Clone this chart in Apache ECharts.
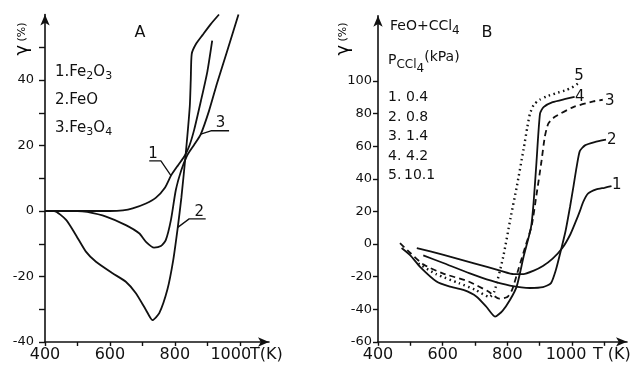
<!DOCTYPE html>
<html>
<head>
<meta charset="utf-8">
<script src="https://cdn.jsdelivr.net/npm/echarts@6/dist/echarts.min.js"></script>
<style>
  html, body { margin: 0; padding: 0; background: #fff; }
  #main { width: 634px; height: 371px; }
</style>
</head>
<body>
<div id="main"></div>
<script>
// ---- panel A : conversion of iron oxides, gamma (%) vs T (K)
var fe2o3 = [[400, 0], [500, 0], [600, 0], [640, 0.2], [670, 0.8], [711, 2.3], [741, 4], [770, 7.2], [788, 10.8], [810, 14], [830, 16.8], [845, 20], [860, 25], [880, 33.5], [900, 42.5], [915, 52]];
var feo = [[400, 0], [428, 0], [465, -2.7], [495, -7.3], [526, -12.4], [557, -15.5], [608, -19], [649, -21.6], [680, -25.1], [711, -30.2], [731, -33.3], [752, -31.2], [777, -24], [795, -15], [809, -5], [820, 4], [834, 18], [846, 32], [849, 40], [852, 48], [865, 51], [885, 53.7], [910, 57], [936, 60]];
var fe3o4 = [[400, 0], [500, 0], [530, -0.3], [588, -1.7], [649, -4.3], [690, -6.8], [711, -9.4], [736, -11.2], [757, -10.7], [772, -8.9], [788, -2.7], [803, 6.4], [820, 12.5], [838, 17], [860, 20.3], [880, 23.5], [905, 30.5], [930, 39], [960, 48.5], [996, 60]];

// leader lines of the curve numbers in A
var leadA1 = [[721, 15.3], [757, 15.3], [788, 10.8]];
var leadA2 = [[809, -5], [844, -2.4], [895, -2.4]];
var leadA3 = [[880, 23.5], [911, 24.5], [967, 24.5]];
var numA = [[733, 17.3, '1'], [875, -0.3, '2'], [941, 26.8, '3']];

var xTicksA = [400, 500, 600, 700, 800, 900, 1000];
var xLabelsA = [400, 600, 800, 1000];
var yTicksA = [-40, -30, -20, -10, 0, 10, 20, 30, 40, 50];
var yLabelsA = [-40, -20, 0, 20, 40];

// ---- panel B : FeO + CCl4 at five pressures
var p04 = [[520, -2.5], [600, -6.5], [700, -12], [780, -16.5], [820, -18.5], [850, -18.5], [880, -16.5], [910, -13.5], [940, -9], [970, -2.5], [995, 6], [1012, 14], [1024, 20], [1035, 26], [1050, 31], [1075, 33.5], [1100, 34.5], [1122, 35.5]];
var p08 = [[540, -7], [600, -11.5], [684, -18], [750, -22.5], [808, -25.5], [870, -27], [910, -26.5], [935, -24], [950, -16], [963, -6], [980, 8], [994, 23], [1005, 36], [1014, 47], [1024, 57], [1040, 60.5], [1070, 62.5], [1105, 64]];
var p14 = [[468, 0.5], [500, -5.5], [540, -12.5], [600, -18], [680, -23], [740, -29], [775, -33.5], [800, -32.5], [815, -28], [835, -15], [855, -2], [875, 11], [890, 30], [905, 50], [916, 66], [927, 74], [947, 78], [1004, 84], [1066, 87.5], [1095, 88.5]];
var p42 = [[473, -2.5], [500, -7], [530, -14], [581, -23], [620, -26], [664, -28.2], [705, -32.3], [735, -38.5], [762, -44.6], [785, -41], [808, -34.4], [829, -26], [850, -8], [873, 10], [881, 25], [890, 50], [901, 80], [912, 84], [940, 87], [980, 89], [1008, 90.3]];
var p101 = [[525, -12], [580, -18.5], [650, -24], [700, -28], [745, -32.5], [760, -29], [787, -8], [810, 16], [829, 35], [850, 58], [862, 72], [870, 80], [882, 85.5], [900, 88.5], [921, 90.5], [950, 92.5], [983, 94.5], [1000, 96], [1019, 98.5]];
var numB = [[1138, 36.2, '1'], [1123, 63.8, '2'], [1117, 87.7, '3'], [1024, 90.2, '4'], [1022, 103, '5']];

var xTicksB = [400, 500, 600, 700, 800, 900, 1000, 1100];
var xLabelsB = [400, 600, 800, 1000];
var yTicksB = [-60, -40, -20, 0, 20, 40, 60, 80, 100];
var yLabelsB = [-60, -40, -20, 0, 20, 40, 60, 80, 100];

var ink = '#111';
var face = 'DejaVu Sans';

function xAxisOf(grid, max, ticks, labels, shift) {
    return {
        gridIndex: grid, type: 'value', min: 400, max: max,
        axisLine: { show: true, onZero: false, symbol: ['none', 'arrow'], symbolSize: [7, 11], lineStyle: { color: ink, width: 1.6 } },
        axisTick: { show: true, customValues: ticks, length: 4, lineStyle: { color: ink, width: 1.4 } },
        axisLabel: {
            customValues: labels, margin: 5, color: ink, fontFamily: face, fontSize: 16,
            formatter: function (v) { return v === 1000 ? '{s|1000}' : String(v); },
            rich: { s: { fontFamily: face, fontSize: 16, color: ink, padding: [0, shift, 0, 0] } }
        },
        splitLine: { show: false }
    };
}

function yAxisOf(grid, min, max, ticks, labels, tickLen, margin) {
    return {
        gridIndex: grid, type: 'value', min: min, max: max,
        axisLine: { show: true, onZero: false, symbol: ['none', 'arrow'], symbolSize: [7, 11], lineStyle: { color: ink, width: 1.6 } },
        axisTick: { show: true, customValues: ticks, length: tickLen, lineStyle: { color: ink, width: 1.4 } },
        axisLabel: { customValues: labels, margin: margin, color: ink, fontFamily: face, fontSize: 13 },
        splitLine: { show: false }
    };
}

function curve(idx, data, type, width) {
    return {
        type: 'line', xAxisIndex: idx, yAxisIndex: idx, data: data,
        showSymbol: false, smooth: 0.2, silent: true,
        lineStyle: { color: ink, width: width || 1.8, type: type || 'solid' }
    };
}

function lead(data) {
    return {
        type: 'line', xAxisIndex: 0, yAxisIndex: 0, data: data,
        showSymbol: false, silent: true, lineStyle: { color: ink, width: 1.3 }
    };
}

function numbers(idx, list) {
    return {
        type: 'scatter', xAxisIndex: idx, yAxisIndex: idx, symbolSize: 0.1, silent: true,
        itemStyle: { color: ink, opacity: 1 },
        data: list.map(function (d) { return { value: [d[0], d[1]], name: d[2] }; }),
        label: { show: true, position: 'inside', formatter: '{b}', color: ink, opacity: 1, textBorderWidth: 0, fontFamily: face, fontSize: 15 }
    };
}

function txt(x, y, text, size, rich, align) {
    return {
        type: 'text', x: x, y: y, silent: true,
        style: { text: text, fill: ink, font: size + 'px "' + face + '"', align: align || 'left', verticalAlign: 'middle', rich: rich }
    };
}

var sub = {
    n: { fontFamily: face, fontSize: 15, color: ink },
    s: { fontFamily: face, fontSize: 11, color: ink, padding: [9, 0, 0, 0] }
};
var subB = {
    n: { fontFamily: face, fontSize: 14, color: ink },
    s: { fontFamily: face, fontSize: 12, color: ink, padding: [10, 0, 0, 0] },
    ss: { fontFamily: face, fontSize: 12, color: ink, padding: [18, 0, 0, 0] },
    u: { fontFamily: face, fontSize: 14, color: ink, padding: [0, 0, 6, 0] }
};

var yName = function (x) {
    return {
        type: 'text', x: x, y: 39, rotation: Math.PI / 2, silent: true,
        style: {
            text: '{g|γ} {p|(%)}', align: 'center', verticalAlign: 'middle',
            rich: {
                g: { fontFamily: face, fontSize: 18, color: ink },
                p: { fontFamily: face, fontSize: 11, color: ink }
            }
        }
    };
};

var chart = echarts.init(document.getElementById('main'));
chart.setOption({
    animation: false,
    backgroundColor: '#fff',
    grid: [
        { left: 45, top: 14.5, width: 224, height: 327.5 },
        { left: 378, top: 15.8, width: 249, height: 326 }
    ],
    xAxis: [xAxisOf(0, 1090, xTicksA, xLabelsA, 18), xAxisOf(1, 1170, xTicksB, xLabelsB, 12)],
    yAxis: [yAxisOf(0, -40, 60, yTicksA, yLabelsA, 6, 11), yAxisOf(1, -60, 140, yTicksB, yLabelsB, 5, 6)],
    series: [
        curve(0, fe2o3), curve(0, feo), curve(0, fe3o4),
        lead(leadA1), lead(leadA2), lead(leadA3),
        numbers(0, numA),
        curve(1, p04), curve(1, p08), curve(1, p14, [6, 4]), curve(1, p42), curve(1, p101, [1.5, 3.5], 2.4),
        numbers(1, numB)
    ],
    graphic: [
        yName(22), yName(343),
        txt(140, 33, 'A', 16, null, 'center'),
        txt(487, 33, 'B', 16, null, 'center'),
        txt(250, 355, 'T(K)', 16),
        txt(593, 355, 'T (K)', 16),
        txt(55, 72, '{n|1.Fe}{s|2}{n|O}{s|3}', 15, sub),
        txt(55, 100, '{n|2.FeO}', 15, sub),
        txt(55, 128, '{n|3.Fe}{s|3}{n|O}{s|4}', 15, sub),
        txt(390, 26, '{n|FeO+CCl}{s|4}', 14, subB),
        txt(388, 60, '{n|P}{s|CCl}{ss|4}{u|(kPa)}', 14, subB),
        txt(388, 97, '1.', 14), txt(406, 97, '0.4', 14),
        txt(388, 117, '2.', 14), txt(406, 117, '0.8', 14),
        txt(388, 136, '3.', 14), txt(406, 136, '1.4', 14),
        txt(388, 156, '4.', 14), txt(406, 156, '4.2', 14),
        txt(388, 175, '5.', 14), txt(404, 175, '10.1', 14)
    ]
});
</script>
</body>
</html>
